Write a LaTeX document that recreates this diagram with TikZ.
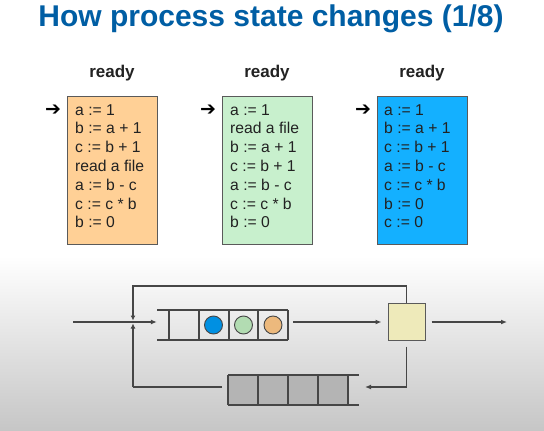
\documentclass[tikz,border=0pt]{standalone}
\usepackage{fontspec}
\setmainfont{Liberation Sans}
\newfontfamily\arrowfont{DejaVu Sans Bold}
\usetikzlibrary{arrows.meta}

\definecolor{titleblue}{RGB}{0,94,164}
\definecolor{txtdark}{RGB}{34,34,34}
\definecolor{boxedge}{RGB}{90,90,90}
\definecolor{pOrange}{RGB}{255,208,150}
\definecolor{pGreen}{RGB}{200,240,205}
\definecolor{pBlue}{RGB}{20,176,255}
\definecolor{bggray}{RGB}{198,198,198}
\definecolor{wire}{RGB}{70,70,70}
\definecolor{cBlue}{RGB}{0,144,226}
\definecolor{cGreen}{RGB}{178,220,178}
\definecolor{cOrange}{RGB}{236,185,125}
\definecolor{cpuFill}{RGB}{238,234,186}
\definecolor{waitFill}{RGB}{180,180,180}

\tikzset{
  titletext/.style={anchor=base, inner sep=0, text=titleblue,
    font=\bfseries\fontsize{30}{36}\selectfont},
  readylbl/.style={anchor=base, inner sep=0, text=txtdark,
    font=\bfseries\fontsize{17}{20}\selectfont},
  codebox/.style={draw=boxedge, line width=1pt, minimum width=90pt,
    minimum height=148pt, inner sep=0},
  codeline/.style={anchor=base west, inner sep=0, text=txtdark,
    font=\fontsize{15.7}{18}\selectfont},
  pcarrow/.style={inner sep=0, text=black,
    font=\arrowfont\fontsize{19}{19}\selectfont},
  wireline/.style={draw=wire, line width=1.2pt},
  flow/.style={wireline, -{Latex[length=6pt,width=5pt]}},
  joinflow/.style={wireline, -{Latex[length=5pt,width=5pt]}, shorten >=1.5pt},
  qline/.style={draw=wire, line width=1.2pt},
  token/.style={circle, draw=wire, line width=0.9pt, minimum size=18pt, inner sep=0},
  qholder/.style={minimum width=131pt, minimum height=30pt, inner sep=0},
}

\begin{document}
\begin{tikzpicture}[x=1pt,y=-1pt]
\useasboundingbox (0,0) rectangle (544,431);

% soft grey floor behind the scheduling diagram
\shade[top color=white, bottom color=bggray] (0,256) rectangle (544,431);

% heading
\node[titletext] (title) at (271,27) {How process state changes (1/8)};

% three processes, each in the ready state
\node[readylbl] (r1) at (112,77) {ready};
\node[readylbl] (r2) at (267,77) {ready};
\node[readylbl] (r3) at (422,77) {ready};

\node[codebox, fill=pOrange] (p1) at (112,170) {};
\node[codebox, fill=pGreen]  (p2) at (267,170) {};
\node[codebox, fill=pBlue]   (p3) at (422,170) {};

\node[pcarrow] (pc1) at (53,110.6) {➔};
\node[pcarrow] (pc2) at (208,110.6) {➔};
\node[pcarrow] (pc3) at (363,110.6) {➔};

\foreach \t [count=\i from 0] in
  {a := 1, b := a + 1, c := b + 1, read a file, a := b - c, c := c * b, b := 0}
  \node[codeline] (oa\i) at (75,115+18.8*\i) {\t};
\foreach \t [count=\i from 0] in
  {a := 1, read a file, b := a + 1, c := b + 1, a := b - c, c := c * b, b := 0}
  \node[codeline] (ga\i) at (230,115+18.8*\i) {\t};
\foreach \t [count=\i from 0] in
  {a := 1, b := a + 1, c := b + 1, a := b - c, c := c * b, b := 0, c := 0}
  \node[codeline] (ba\i) at (384,115+18.8*\i) {\t};

% ---- ready queue -> CPU -> wait queue ----
\coordinate (in)  at (73,322);
\coordinate (j)   at (133,322);
\coordinate (tl)  at (133,286);
\coordinate (bl)  at (133,387);
\coordinate (wq)  at (222,387);
\coordinate (fb)  at (365,387);
\coordinate (out) at (507,322);

% ready queue holder (open on the left)
\node[qholder] (rq) at (222.5,325) {};
\draw[qline] (157,310) -- (288,310) (157,340) -- (288,340);
\foreach \x in {169,199,229,258,288} \draw[qline] (\x,310) -- (\x,340);
\node[token, fill=cBlue]   (t1) at (213.5,325) {};
\node[token, fill=cGreen]  (t2) at (243.5,325) {};
\node[token, fill=cOrange] (t3) at (273,325) {};

% CPU
\node[draw=boxedge, line width=1pt, fill=cpuFill, minimum size=37pt, inner sep=0]
  (cpu) at (406.5,321.5) {};

% waiting queue holder (open on the right)
\node[qholder] (wait) at (293.5,390) {};
\fill[waitFill] (228,375) rectangle (348,405);
\draw[qline] (228,375) -- (359,375) (228,405) -- (359,405);
\foreach \x in {228,258,288,318,348} \draw[qline] (\x,375) -- (\x,405);

% connectors
\draw[wireline] (in) -- (j);
\draw[flow] (j) -- (j -| rq.west);
\draw[joinflow] (cpu.north) |- (tl) -- (j);
\draw[wireline] (wq) -- (bl);
\draw[joinflow] (bl) -- (j);
\draw[flow, shorten <=5pt, shorten >=6pt] (rq.east |- j) -- (cpu.west |- j);
\draw[flow, shorten <=6pt] (cpu.east |- j) -- (out);
\draw[flow, shorten <=6pt] (cpu.south) |- (fb);
\end{tikzpicture}
\end{document}
